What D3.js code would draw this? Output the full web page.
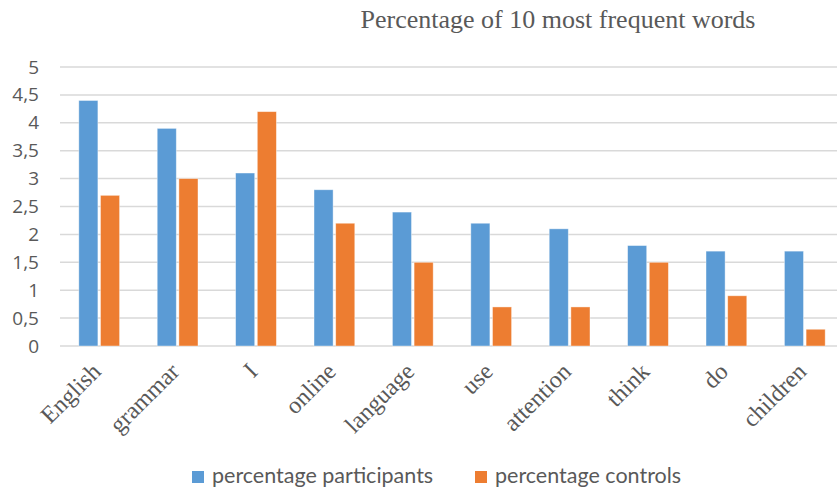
<!DOCTYPE html>
<html>
<head>
<meta charset="utf-8">
<script src="https://cdn.jsdelivr.net/npm/d3@7"></script>
<style>
  body { margin: 0; background: #fff; }
  svg { display: block; }
</style>
</head>
<body>
<svg width="837" height="487"></svg>
<script>
// слова и значения
const words = ["English", "grammar", "I", "online", "language", "use", "attention", "think", "do", "children"];
const participants = [4.4, 3.9, 3.1, 2.8, 2.4, 2.2, 2.1, 1.8, 1.7, 1.7];
const controls = [2.7, 3.0, 4.2, 2.2, 1.5, 0.7, 0.7, 1.5, 0.9, 0.3];
const seriesNames = ["percentage participants", "percentage controls"];
const seriesColors = ["#5B9BD5", "#ED7D31"];
const yTicks = [0, 0.5, 1, 1.5, 2, 2.5, 3, 3.5, 4, 4.5, 5];

const svg = d3.select("svg")
const gray = "#595959"

// масштабы
const x0 = d3.scaleBand()
    .domain(words)
    .range([60, 844])
    .paddingInner(0.48)
    .paddingOuter(0.24);
const x1 = d3.scaleBand()
    .domain(seriesNames)
    .range([0, x0.bandwidth()])
    .paddingInner(0.12);
const y = d3.scaleLinear().domain([0, 5]).range([346, 67]);

// сетка
svg.append("g")
    .selectAll("line")
    .data(yTicks)
    .join("line")
    .attr("x1", 60)
    .attr("x2", 837)
    .attr("y1", d => y(d))
    .attr("y2", d => y(d))
    .attr("stroke", "#D9D9D9")
    .attr("stroke-width", 1.5);

// подписи оси y (с запятой)
const yAxis = d3.axisLeft(y)
    .tickValues(yTicks)
    .tickSize(0)
    .tickPadding(0)
    .tickFormat(d => String(d).replace(".", ","));
svg.append("g")
    .attr("transform", "translate(39,0)")
    .call(yAxis)
    .call(g => g.select(".domain").remove())
    .selectAll("text")
    .attr("font-family", "'Open Sans', sans-serif")
    .attr("font-size", 19)
    .attr("fill", gray);

// столбцы
const rows = words.map((w, i) => ({word: w, values: [participants[i], controls[i]]}));
svg.append("g")
    .selectAll("g")
    .data(rows)
    .join("g")
    .attr("transform", d => `translate(${x0(d.word)},0)`)
    .selectAll("rect")
    .data(d => d.values.map((v, k) => ({name: seriesNames[k], value: v, color: seriesColors[k]})))
    .join("rect")
    .attr("x", d => x1(d.name))
    .attr("width", x1.bandwidth())
    .attr("y", d => y(d.value))
    .attr("height", d => y(0) - y(d.value))
    .attr("fill", d => d.color)
    .attr("stroke", "#fff")
    .attr("stroke-opacity", 0.5)
    .attr("stroke-width", 0.8);

// подписи категорий, повернутые на 45 градусов
const xAxis = d3.axisBottom(x0).tickSize(0).tickPadding(0);
svg.append("g")
    .attr("transform", `translate(0,${y(0)})`)
    .call(xAxis)
    .call(g => g.select(".domain").remove())
    .selectAll("text")
    .attr("font-family", "'Liberation Serif', 'Times New Roman', serif")
    .attr("font-size", 24)
    .attr("fill", gray)
    .attr("text-anchor", "end")
    .attr("dy", 0)
    .attr("transform", "translate(3,27) rotate(-45)");

// заголовок
svg.append("text")
    .attr("x", 558)
    .attr("y", 28)
    .attr("text-anchor", "middle")
    .attr("font-family", "'Liberation Serif', 'Times New Roman', serif")
    .attr("font-size", 26)
    .attr("fill", gray)
    .text("Percentage of 10 most frequent words");

// легенда
const legendX = [192, 475];
const legend = svg.append("g")
    .selectAll("g")
    .data(seriesNames)
    .join("g")
    .attr("transform", (d, i) => `translate(${legendX[i]},471)`);
legend.append("rect")
    .attr("width", 12)
    .attr("height", 12)
    .attr("fill", (d, i) => seriesColors[i]);
legend.append("text")
    .attr("x", 20)
    .attr("y", 12)
    .attr("font-family", "Lato, sans-serif")
    .attr("font-size", 21.5)
    .attr("fill", gray)
    .text(d => d);
</script>
</body>
</html>
